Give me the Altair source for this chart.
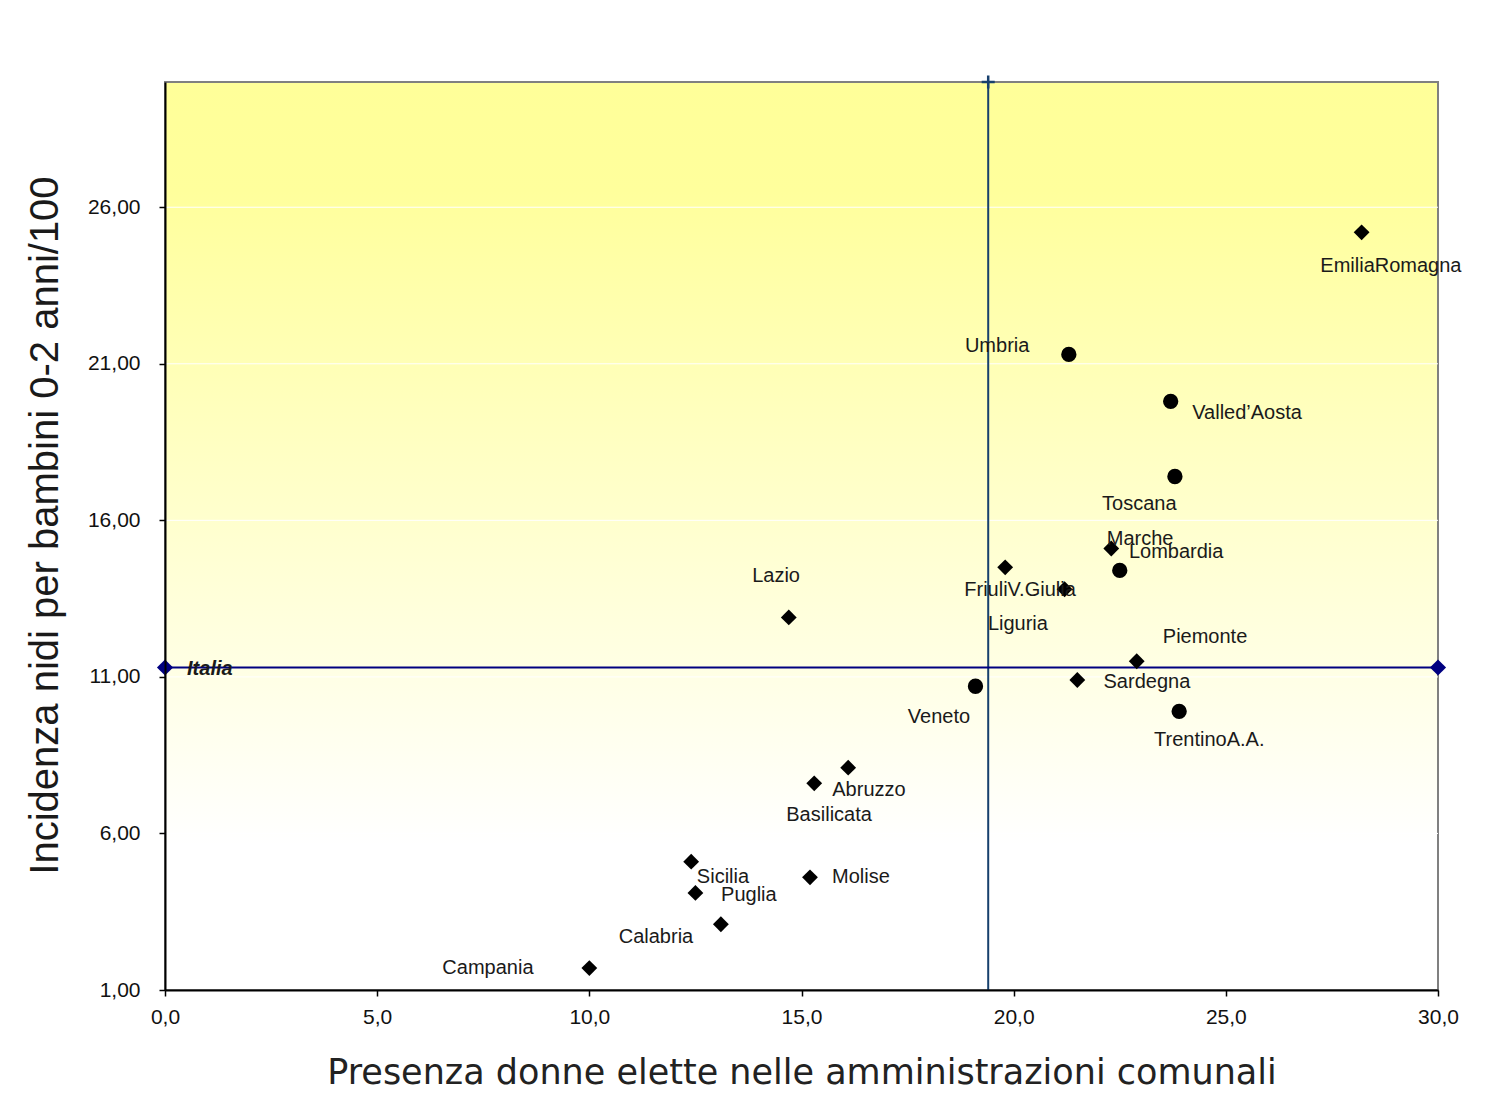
import altair as alt
import pandas as pd

# ---- data ----
regions = ["EmiliaRomagna", "Umbria", "Valled’Aosta", "Toscana", "Marche", "Lombardia",
           "FriuliV.Giulia", "Liguria", "Lazio", "Piemonte", "Sardegna", "Veneto",
           "TrentinoA.A.", "Abruzzo", "Basilicata", "Sicilia", "Molise", "Puglia",
           "Calabria", "Campania"]
donne_elette = [28.2, 21.3, 23.7, 23.8, 22.3, 22.5, 19.8, 21.2, 14.7, 22.9, 21.5, 19.1,
                23.9, 16.1, 15.3, 12.4, 15.2, 12.5, 13.1, 10.0]
nidi = [25.2, 21.3, 19.8, 17.4, 15.1, 14.4, 14.5, 13.8, 12.9, 11.5, 10.9, 10.7,
        9.9, 8.1, 7.6, 5.1, 4.6, 4.1, 3.1, 1.7]
gruppo = ["rombo", "cerchio", "cerchio", "cerchio", "rombo", "cerchio", "rombo", "rombo",
          "rombo", "rombo", "rombo", "cerchio", "cerchio", "rombo", "rombo", "rombo",
          "rombo", "rombo", "rombo", "rombo"]
# label anchor points (data units), as placed in the reference
label_x = [28.89, 19.61, 25.50, 22.96, 22.98, 23.83, 20.15, 20.10, 14.40, 24.51, 23.14,
           18.24, 24.61, 16.59, 15.65, 13.15, 16.40, 13.76, 11.57, 7.61]
label_y = [24.12, 21.57, 19.43, 16.53, 15.41, 15.00, 13.79, 12.70, 14.23, 12.29, 10.85,
           9.71, 8.97, 7.38, 6.58, 4.60, 4.60, 4.03, 2.69, 1.70]

italia_x = 19.4
italia_y = 11.3
italia_label = "Italia"
italia_label_x = 0.52
italia_label_y = 11.25

x_domain = [0, 30]
y_domain = [1, 30]
x_ticks = [0, 5, 10, 15, 20, 25, 30]
y_ticks = [1, 6, 11, 16, 21, 26]

x_title = "Presenza donne elette nelle amministrazioni comunali"
y_title = "Incidenza nidi per bambini 0-2 anni/100"

# ---- tables ----
df = pd.DataFrame({"regione": regions, "donne": donne_elette, "nidi": nidi,
                   "gruppo": gruppo, "lx": label_x, "ly": label_y})
bg = pd.DataFrame({"x": [x_domain[0]], "x1": [x_domain[1]],
                   "y": [y_domain[0]], "y1": [y_domain[1]]})
grid = pd.DataFrame({"y": y_ticks[1:]})
hline = pd.DataFrame({"x": x_domain, "y": [italia_y, italia_y]})
vline = pd.DataFrame({"x": [italia_x, italia_x], "y": y_domain})
vtop = pd.DataFrame({"x": [italia_x], "y": [y_domain[1]]})
ital = pd.DataFrame({"x": [italia_label_x], "y": [italia_label_y], "t": [italia_label]})

xs = alt.Scale(domain=x_domain, nice=False, zero=False)
ys = alt.Scale(domain=y_domain, nice=False, zero=False)
FONT = "Liberation Sans"

x_axis = alt.Axis(values=x_ticks, title=x_title, grid=False, labelFlush=False,
                  labelExpr="replace(format(datum.value, '.1f'), '.', ',')",
                  labelFont=FONT, labelFontSize=21, labelColor="#111111", labelPadding=10,
                  tickSize=6, tickColor="#000000", tickWidth=1.5,
                  domainColor="#000000", domainWidth=2,
                  titleFont="DejaVu Sans", titleFontSize=35, titleFontWeight="normal",
                  titleColor="#222222", titlePadding=28, zindex=1)
y_axis = alt.Axis(values=y_ticks, title=y_title, grid=False, labelFlush=False,
                  labelExpr="replace(format(datum.value, '.2f'), '.', ',')",
                  labelFont=FONT, labelFontSize=21, labelColor="#111111", labelPadding=19,
                  tickSize=6, tickColor="#000000", tickWidth=1.5,
                  domainColor="#000000", domainWidth=2,
                  titleFont=FONT, titleFontSize=40, titleFontWeight="normal",
                  titleColor="#1a1a1a", titlePadding=22, titleY=443, zindex=1)


def X(field):
    return alt.X(field, scale=xs, axis=x_axis, title=x_title)


def Y(field):
    return alt.Y(field, scale=ys, axis=y_axis, title=y_title)


gradient = alt.Gradient(
    gradient="linear",
    stops=[alt.GradientStop(color="#FFFF99", offset=0),
           alt.GradientStop(color="#FFFF9C", offset=0.12),
           alt.GradientStop(color="#FFFFFF", offset=0.84),
           alt.GradientStop(color="#FFFFFF", offset=1)],
    x1=0, x2=0, y1=0, y2=1)

background = alt.Chart(bg).mark_rect(fill=gradient, stroke="#808080", strokeWidth=2).encode(
    x=X("x:Q"), x2="x1:Q", y=Y("y:Q"), y2="y1:Q")

gridlines = alt.Chart(grid).mark_rule(color="#FFFFFF", strokeWidth=1).encode(y=Y("y:Q"))

h_line = alt.Chart(hline).mark_line(
    color="#000080", strokeWidth=2,
    point=alt.OverlayMarkDef(shape="diamond", size=260, filled=True, color="#000080", opacity=1)
).encode(x=X("x:Q"), y=Y("y:Q"))

v_line = alt.Chart(vline).mark_line(color="#17406D", strokeWidth=2).encode(
    x=X("x:Q"), y=Y("y:Q"))

v_cross = alt.Chart(vtop).mark_point(
    shape="M-1,0L1,0M0,-1L0,1", size=170, filled=False, color="#17406D",
    strokeWidth=2.5, opacity=1
).encode(x=X("x:Q"), y=Y("y:Q"))

points = alt.Chart(df).mark_point(filled=True, color="#000000", opacity=1).encode(
    x=X("donne:Q"),
    y=Y("nidi:Q"),
    shape=alt.Shape("gruppo:N", scale=alt.Scale(domain=["cerchio", "rombo"],
                                                range=["circle", "diamond"]), legend=None),
    size=alt.Size("gruppo:N", scale=alt.Scale(domain=["cerchio", "rombo"],
                                              range=[235, 250]), legend=None))

labels = alt.Chart(df).mark_text(font=FONT, fontSize=20, color="#1a1a1a",
                                 align="center", baseline="middle").encode(
    x=X("lx:Q"), y=Y("ly:Q"), text="regione:N")

italia_text = alt.Chart(ital).mark_text(font=FONT, fontSize=20, fontStyle="italic",
                                        fontWeight="bold", color="#1a1a1a",
                                        align="left", baseline="middle").encode(
    x=X("x:Q"), y=Y("y:Q"), text="t:N")

chart = alt.layer(background, gridlines, v_line, h_line, v_cross, points, labels,
                  italia_text).properties(
    width=1273, height=908,
    autosize=alt.AutoSizeParams(type="none"),
    padding={"left": 157, "top": 74, "right": 45, "bottom": 100},
    background="#FFFFFF",
).configure_view(stroke=None)

chart.save("out.html", embed_options={"renderer": "svg", "actions": False})
